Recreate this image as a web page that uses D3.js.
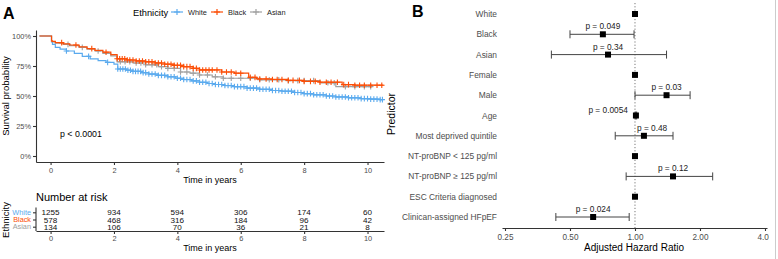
<!DOCTYPE html>
<html lang="en">
<head>
<meta charset="UTF-8">
<title>Survival by ethnicity and adjusted hazard ratios</title>
<script src="https://d3js.org/d3.v7.min.js"></script>
<style>
    body { margin: 0; padding: 0; background: #fff; }
    svg { display: block; font-family: "Liberation Sans", Arial, Helvetica, sans-serif; }
    .tick text { fill: #4d4d4d; }
    .axis path, .axis line { stroke: #333; }
</style>
</head>
<body>
<svg id="chart" width="778" height="259"></svg>
<script>
// ---- Panel A: Kaplan-Meier by ethnicity ----
const groups = ["White", "Black", "Asian"];
const groupColors = ["#5aaaee", "#fc4e07", "#a0a0a0"];

const whiteTimes = [-0.35, 0.03, 0.06, 0.15, 0.3, 0.5, 0.75, 1.0, 1.25, 1.5, 1.75, 2.0, 2.12, 2.4, 2.6, 2.85, 3.1, 3.4, 3.7, 3.95, 4.2, 4.45, 4.7, 4.95, 5.2, 5.5, 5.8, 6.2, 6.6, 7.0, 7.3, 7.7, 8.0, 8.3, 8.7, 9.0, 9.4, 9.8, 10.1, 10.4, 10.5];
const whiteSurv  = [1.0, 0.95, 0.93, 0.905, 0.89, 0.875, 0.855, 0.83, 0.81, 0.795, 0.78, 0.765, 0.725, 0.715, 0.705, 0.695, 0.683, 0.672, 0.66, 0.648, 0.637, 0.626, 0.614, 0.604, 0.596, 0.587, 0.578, 0.566, 0.556, 0.546, 0.54, 0.529, 0.52, 0.51, 0.50, 0.492, 0.485, 0.478, 0.474, 0.47, 0.47];

const blackTimes = [-0.35, 0.03, 0.06, 0.15, 0.4, 0.6, 0.9, 1.15, 1.4, 1.65, 1.9, 2.1, 2.4, 2.7, 3.0, 3.3, 3.6, 3.9, 4.2, 4.5, 4.7, 5.4, 5.8, 6.25, 6.5, 7.0, 7.5, 8.0, 8.5, 9.2, 9.6, 10.5];
const blackSurv  = [1.0, 0.96, 0.955, 0.945, 0.935, 0.925, 0.91, 0.895, 0.88, 0.865, 0.845, 0.81, 0.80, 0.792, 0.785, 0.775, 0.765, 0.755, 0.745, 0.73, 0.717, 0.70, 0.69, 0.655, 0.642, 0.638, 0.63, 0.622, 0.615, 0.595, 0.59, 0.59];

const asianTimes = [-0.35, 0.03, 0.06, 0.15, 0.4, 0.6, 0.9, 1.15, 1.4, 1.65, 1.9, 2.1, 2.6, 3.0, 3.4, 3.7, 4.1, 4.4, 4.7, 5.1, 5.45, 6.6, 7.5, 8.5, 9.0, 10.15];
const asianSurv  = [1.0, 0.955, 0.95, 0.94, 0.93, 0.92, 0.905, 0.89, 0.875, 0.855, 0.835, 0.785, 0.775, 0.76, 0.745, 0.73, 0.70, 0.69, 0.675, 0.66, 0.648, 0.635, 0.628, 0.61, 0.578, 0.578];

// censoring marks (years)
const whiteCensor = [0.5, 1.2, 1.8, 2.12, 2.2, 2.28, 2.36, 2.44, 2.52, 2.6, 2.68, 2.76, 2.84, 2.92, 3.0, 3.1, 3.2, 3.3, 3.4, 3.5, 3.6, 3.7, 3.8, 3.9, 4.0, 4.1, 4.2, 4.3, 4.4, 4.5, 4.6, 4.7, 4.8, 4.9, 5.0, 5.1, 5.2, 5.3, 5.4, 5.5, 5.6, 5.7, 5.8, 5.9, 6.0, 6.1, 6.2, 6.3, 6.4, 6.5, 6.6, 6.7, 6.8, 6.9, 7.0, 7.1, 7.2, 7.3, 7.4, 7.5, 7.6, 7.7, 7.8, 7.9, 8.0, 8.1, 8.2, 8.3, 8.4, 8.5, 8.6, 8.7, 8.8, 8.9, 9.0, 9.1, 9.2, 9.3, 9.4, 9.5, 9.6, 9.7, 9.8, 9.9, 10.0, 10.1, 10.2, 10.3, 10.4, 10.47];
const blackCensor = [0.35, 0.8, 1.3, 1.75, 2.1, 2.18, 2.26, 2.34, 2.42, 2.5, 2.6, 2.7, 2.8, 2.9, 3.0, 3.1, 3.2, 3.3, 3.4, 3.5, 3.6, 3.7, 3.8, 3.9, 4.0, 4.1, 4.2, 4.3, 4.4, 4.5, 4.6, 4.7, 4.8, 4.9, 5.0, 5.1, 5.25, 5.4, 5.55, 5.7, 5.85, 6.0, 6.3, 6.45, 6.6, 6.8, 7.0, 7.15, 7.3, 7.5, 7.65, 7.85, 8.0, 8.2, 8.35, 8.5, 8.7, 8.85, 9.05, 9.25, 9.4, 9.6, 9.75, 9.9, 10.1, 10.3, 10.45];
const asianCensor = [0.55, 1.0, 1.5, 2.2, 2.35, 2.5, 2.7, 2.85, 3.0, 3.2, 3.35, 3.5, 3.7, 3.9, 4.1, 4.3, 4.5, 4.7, 4.95, 5.2, 5.45, 5.7, 6.0, 6.3, 6.6, 6.9, 7.2, 7.5, 7.8, 8.0, 8.3, 8.75, 8.95, 9.3, 9.6, 9.9, 10.1];

const riskTimes = [0, 2, 4, 6, 8, 10];
const whiteRisk = [1255, 934, 594, 306, 174, 60];
const blackRisk = [578, 468, 316, 184, 96, 42];
const asianRisk = [134, 106, 70, 36, 21, 8];

// ---- Panel B: forest plot ----
const predictors = ["White", "Black", "Asian", "Female", "Male", "Age", "Most deprived quintile",
    "NT-proBNP < 125 pg/ml", "NT-proBNP \u2265 125 pg/ml", "ESC Criteria diagnosed", "Clinican-assigned HFpEF"];
const hazardRatio = [1, 0.71, 0.75, 1, 1.40, 1.01, 1.10, 1, 1.50, 1, 0.64];
const ciLower = [null, 0.50, 0.41, null, 1.00, 1.003, 0.81, null, 0.91, null, 0.43];
const ciUpper = [null, 0.99, 1.40, null, 1.80, 1.018, 1.50, null, 2.29, null, 0.94];
const pLabels = ["", "p = 0.049", "p = 0.34", "", "p = 0.03", "p = 0.0054", "p = 0.48", "", "p = 0.12", "", "p = 0.024"];

const svg = d3.select("#chart");
svg.append("rect").attr("width", 778).attr("height", 259).attr("fill", "#fff");

const series = [
    { name: groups[0], color: groupColors[0], times: whiteTimes, surv: whiteSurv, censor: whiteCensor, risk: whiteRisk },
    { name: groups[1], color: groupColors[1], times: blackTimes, surv: blackSurv, censor: blackCensor, risk: blackRisk },
    { name: groups[2], color: groupColors[2], times: asianTimes, surv: asianSurv, censor: asianCensor, risk: asianRisk }
];

// scales for A
const x = d3.scaleLinear().domain([-0.46, 10.52]).range([36, 384]);
const y = d3.scaleLinear().domain([-0.05, 1.05]).range([162, 30]);

svg.append("text").attr("x", 3).attr("y", 18.5).attr("font-size", 16).attr("font-weight", "bold").text("A");

// legend
const legend = svg.append("g").attr("transform", "translate(0,12)");
legend.append("text").attr("x", 133).attr("y", 3.5).attr("font-size", 9.3).text("Ethnicity");
const legendX = [171, 211, 250];
series.forEach((s, i) => {
    const g = legend.append("g").attr("transform", `translate(${legendX[i]},0)`);
    g.append("line").attr("x1", 0).attr("x2", 12).attr("y1", 0).attr("y2", 0).attr("stroke", s.color).attr("stroke-width", 1.2);
    g.append("path").attr("d", "M6,-3V3M3,0H9").attr("stroke", s.color).attr("stroke-width", 1.2);
    g.append("text").attr("x", 17).attr("y", 2.8).attr("font-size", 7.4).attr("fill", "#222").text(s.name);
});

// axes
svg.append("g").attr("class", "axis").attr("transform", "translate(36,0)")
    .call(d3.axisLeft(y).tickValues([0, 0.25, 0.5, 0.75, 1]).tickFormat(d3.format(".0%")).tickSize(3).tickSizeOuter(0).tickPadding(2))
    .call(g => g.selectAll("text").attr("font-size", 7.4));
svg.append("g").attr("class", "axis").attr("transform", "translate(0,162)")
    .call(d3.axisBottom(x).tickValues(riskTimes).tickSize(3).tickSizeOuter(0).tickPadding(3))
    .call(g => g.selectAll("text").attr("font-size", 7.4));
svg.selectAll(".axis path, .axis line").attr("stroke-width", 1.1);

svg.append("text").attr("transform", "translate(9,96) rotate(-90)").attr("text-anchor", "middle")
    .attr("font-size", 9.5).text("Survival probability");
svg.append("text").attr("x", 210).attr("y", 182.5).attr("text-anchor", "middle").attr("font-size", 9).text("Time in years");
svg.append("text").attr("x", 60).attr("y", 136.5).attr("font-size", 8.8).text("p < 0.0001");

// curves
const stepLine = d3.line().x(d => x(d[0])).y(d => y(d[1])).curve(d3.curveStepAfter);
function survAt(s, t) {
    const i = d3.bisectRight(s.times, t) - 1;
    return s.surv[Math.max(0, i)];
}
const plotOrder = [0, 2, 1];
plotOrder.forEach(k => {
    const s = series[k];
    svg.append("path")
        .attr("d", stepLine(s.times.map((t, i) => [t, s.surv[i]])))
        .attr("fill", "none").attr("stroke", s.color).attr("stroke-width", 1.2);
    svg.append("g").selectAll("path").data(s.censor).join("path")
        .attr("transform", t => `translate(${x(t)},${y(survAt(s, t))})`)
        .attr("d", "M0,-2.8V2.8M-2.8,0H2.8")
        .attr("stroke", s.color).attr("stroke-width", 1.1);
});

// risk table
svg.append("text").attr("x", 36).attr("y", 201.3).attr("font-size", 11).text("Number at risk");
const riskY = d3.scalePoint().domain(groups).range([212.3, 226.7]);
svg.append("g").attr("class", "axis").attr("transform", "translate(0,231)")
    .call(d3.axisBottom(x).tickValues(riskTimes).tickSize(3).tickSizeOuter(0).tickPadding(2))
    .call(g => g.selectAll("text").attr("font-size", 7.4));
svg.append("g").attr("class", "axis").attr("transform", "translate(36,0)")
    .call(d3.axisLeft(riskY).tickSize(3).tickSizeOuter(0).tickFormat(""))
    .call(g => g.select(".domain").attr("d", "M0,207.5V231"));
svg.selectAll(".axis path, .axis line").attr("stroke-width", 1.1);
series.forEach(s => {
    svg.append("text").attr("x", 31).attr("y", riskY(s.name) + 2.7).attr("text-anchor", "end")
        .attr("font-size", 7.3).attr("fill", s.color).text(s.name);
    svg.append("g").selectAll("text").data(s.risk).join("text")
        .attr("x", (d, i) => x(riskTimes[i])).attr("y", riskY(s.name) + 3)
        .attr("text-anchor", "middle").attr("font-size", 8.1).attr("fill", "#111").text(d => d);
});
svg.append("text").attr("x", 210).attr("y", 250.5).attr("text-anchor", "middle").attr("font-size", 9).text("Time in years");
svg.append("text").attr("transform", "translate(9,220) rotate(-90)").attr("text-anchor", "middle")
    .attr("font-size", 9.5).text("Ethnicity");

// ---- Panel B ----
const bx = d3.scaleLog().base(2).domain([Math.pow(2, -2.046), Math.pow(2, 2.031)]).range([502, 767]);
const by = d3.scalePoint().domain(predictors).range([14, 217]);

svg.append("rect").attr("x", 385).attr("y", 0).attr("width", 393).attr("height", 259).attr("fill", "#fff");
svg.append("text").attr("x", 412).attr("y", 16.5).attr("font-size", 16).attr("font-weight", "bold").text("B");

svg.append("line").attr("x1", bx(1)).attr("x2", bx(1)).attr("y1", 3).attr("y2", 228)
    .attr("stroke", "#777").attr("stroke-dasharray", "1.2,2").attr("stroke-width", 1);

svg.append("g").attr("class", "axis").attr("transform", "translate(0,228)")
    .call(d3.axisBottom(bx).tickValues([0.25, 0.5, 1, 2, 4]).tickFormat(d3.format(".2f")).tickSize(3).tickSizeOuter(0).tickPadding(3))
    .call(g => g.selectAll("text").attr("font-size", 8.2));
svg.selectAll(".axis path, .axis line").attr("stroke-width", 1.1);

svg.append("g").selectAll("text").data(predictors).join("text")
    .attr("x", 497).attr("y", d => by(d) + 3).attr("text-anchor", "end")
    .attr("font-size", 8.4).attr("fill", "#4d4d4d").text(d => d);

const rows = predictors.map((p, i) => ({ p, hr: hazardRatio[i], lo: ciLower[i], hi: ciUpper[i], label: pLabels[i] }));
const forest = svg.append("g");
rows.forEach(r => {
    const yy = by(r.p);
    if (r.lo !== null) {
        forest.append("path")
            .attr("d", `M${bx(r.lo)},${yy}H${bx(r.hi)}M${bx(r.lo)},${yy - 4}V${yy + 4}M${bx(r.hi)},${yy - 4}V${yy + 4}`)
            .attr("stroke", "#444").attr("stroke-width", 1).attr("fill", "none");
    }
    forest.append("rect").attr("x", bx(r.hr) - 3).attr("y", yy - 3).attr("width", 6).attr("height", 6).attr("fill", "#000");
    if (r.label) {
        const narrow = bx(r.hi) - bx(r.lo) < 5;
        const t = forest.append("text")
            .attr("y", narrow ? yy - 3 : yy - 5)
            .attr("font-size", 8.3).attr("fill", "#222").text(r.label);
        if (narrow) {
            t.attr("x", bx(r.hr) - 8).attr("text-anchor", "end");
        } else {
            // keep the label clear of the reference line, as a repel would
            const w = t.node().getComputedTextLength();
            let left = bx(r.hr) - w / 2;
            if (left < bx(1) + 2 && left + w > bx(1) - 2) left = bx(1) + 2;
            t.attr("x", left).attr("text-anchor", "start");
        }
    }
});

svg.append("text").attr("transform", "translate(395,114) rotate(-90)").attr("text-anchor", "middle")
    .attr("font-size", 10.5).text("Predictor");
svg.append("text").attr("x", 634).attr("y", 250.5).attr("text-anchor", "middle").attr("font-size", 10).text("Adjusted Hazard Ratio");

svg.append("rect").attr("x", 769).attr("y", 0).attr("width", 9).attr("height", 259).attr("fill", "#fff");
svg.append("line").attr("x1", 775.5).attr("x2", 775.5).attr("y1", 0).attr("y2", 259).attr("stroke", "#ccc");
</script>
</body>
</html>
